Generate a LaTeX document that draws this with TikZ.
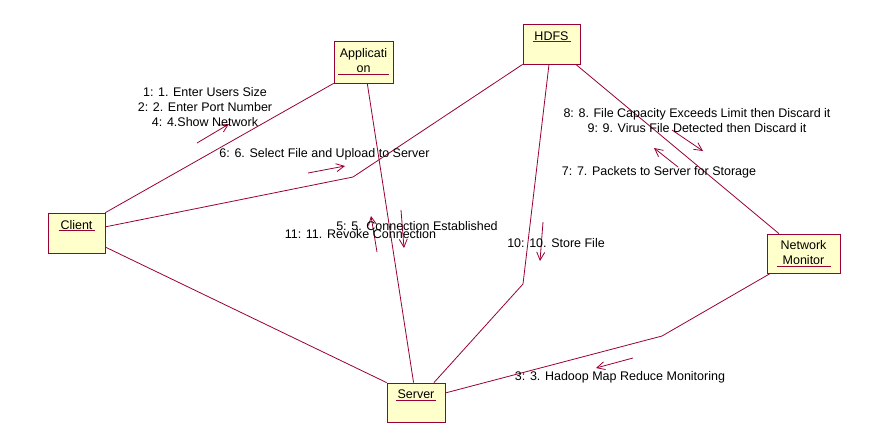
\documentclass[tikz,border=0pt]{standalone}
\usepackage{fontspec}
\setmainfont{Liberation Sans}
\usepackage{xcolor}
\usetikzlibrary{arrows.meta}

\definecolor{umlline}{RGB}{153,0,51}
\definecolor{umlfill}{RGB}{255,255,204}
% underlined object name, rule in line colour
\newcommand{\objname}[2]{{\color{umlline}\underline{\makebox[#1]{\color{black}#2}}}}

\begin{document}
\begin{tikzpicture}[x=1pt, y=-1pt,
    obj/.style={rectangle, draw=umlline, fill=umlfill, line width=0.8pt, inner sep=0pt,
        minimum width=57pt, minimum height=40pt, align=center, font=\fontsize{12.5}{15}\selectfont},
    objtop/.style={obj, text height=9pt, text depth=17pt},
    assoc/.style={umlline, line width=0.8pt},
    msg/.style={umlline, line width=0.8pt, -{Straight Barb[length=8pt, width=8pt]}},
    lbl/.style={font=\fontsize{12.5}{15}\selectfont, align=center, inner sep=0pt,
        text height=9pt, text depth=3pt}
]
    \fill[white] (0,0) rectangle (883,445);
    \useasboundingbox (0,0) rectangle (883,445);

    % objects
    \node[objtop] (client) at (76.5,233) {\objname{36pt}{Client}};
    \node[obj, minimum width=59pt, minimum height=42pt] (app) at (363.5,62) {Applicati\\\objname{51pt}{on}};
    \node[objtop] (hdfs) at (551.5,44) {\objname{38pt}{HDFS}};
    \node[obj, minimum width=73pt, minimum height=39pt] (nm) at (803.5,253.5) {Network\\\objname{54pt}{Monitor}};
    \node[objtop, minimum width=58pt, minimum height=39pt] (server) at (416,402.5) {\objname{40pt}{Server}};

    % bends
    \coordinate (cbend) at (353,177);
    \coordinate (hbend) at (523,284);
    \coordinate (nbend) at (662,336);

    % links
    \draw[assoc] (client.north east) -- (app.south west);
    \draw[assoc] (client.12) -- (cbend) -- (hdfs.south west);
    \draw[assoc] (client.-26) -- (server.north west);
    \draw[assoc] (app.-80) -- (server.97);
    \draw[assoc] (hdfs.-97) -- (hbend) -- (server.48);
    \draw[assoc] (hdfs.-40) -- (nm.141);
    \draw[assoc] (nm.211) -- (nbend) -- (server.18);

    % message arrows
    \coordinate (m1s) at (197,143);  \coordinate (m1e) at (229,124);
    \coordinate (m6s) at (308,173);  \coordinate (m6e) at (345,166);
    \coordinate (m11s) at (377,252); \coordinate (m11e) at (371,216);
    \coordinate (m5s) at (401,210);  \coordinate (m5e) at (404,248);
    \coordinate (m10s) at (543,222); \coordinate (m10e) at (540,261);
    \coordinate (m8s) at (672,130);  \coordinate (m8e) at (703,151);
    \coordinate (m7s) at (678,167);  \coordinate (m7e) at (654,148);
    \coordinate (m3s) at (633,358);  \coordinate (m3e) at (596,368);
    \foreach \a/\b in {m1s/m1e, m6s/m6e, m11s/m11e, m5s/m5e, m10s/m10e, m8s/m8e, m7s/m7e, m3s/m3e}
        \draw[msg] (\a) -- (\b);

    % message labels
    \node[lbl, text height=, text depth=] (l124) at (205,107) {1: 1. Enter Users Size\\2: 2. Enter Port Number\\4: 4.Show Network};
    \node[lbl] (l6) at (324.5,154) {6: 6. Select File and Upload to Server};
    \node[lbl] (l5) at (417,227) {5: 5. Connection Established};
    \node[lbl] (l11) at (360.5,235) {11: 11. Revoke Connection};
    \node[lbl] (l10) at (556,244) {10: 10. Store File};
    \node[lbl, text height=, text depth=] (l89) at (697,120.5) {8: 8. File Capacity Exceeds Limit then Discard it\\9: 9. Virus File Detected then Discard it};
    \node[lbl] (l7) at (659,172) {7: 7. Packets to Server for Storage};
    \node[lbl] (l3) at (620,377) {3: 3. Hadoop Map Reduce Monitoring};
\end{tikzpicture}
\end{document}
